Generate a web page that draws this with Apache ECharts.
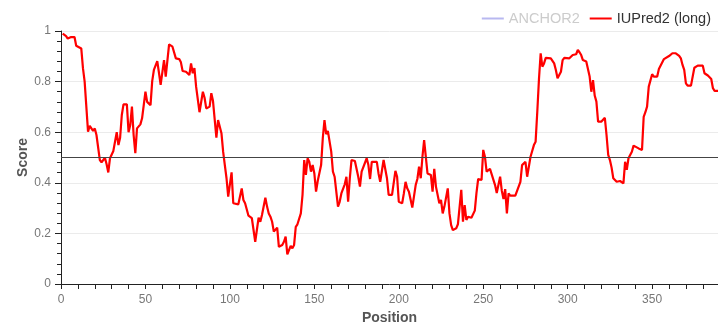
<!DOCTYPE html>
<html>
<head>
<meta charset="utf-8">
<title>IUPred2 disorder profile</title>
<script src="https://cdn.jsdelivr.net/npm/echarts@6/dist/echarts.min.js"></script>
<style>
  html, body { margin: 0; padding: 0; background: #fff; }
  #chart { width: 718px; height: 326px; }
</style>
</head>
<body>
<div id="chart"></div>
<script>
// Residue positions and IUPred2 (long) disorder scores
const positions = [
  1, 3, 4, 5, 6, 8, 9, 10, 12, 13, 14, 16, 17, 18, 19, 20, 21, 23, 24, 25,
  26, 27, 28, 29, 31, 32, 33, 34, 35, 36, 37, 39, 40, 41, 42, 43, 44, 45, 47, 48,
  49, 50, 51, 53, 54, 55, 57, 58, 59, 61, 62, 64, 66, 68, 70, 71, 72, 74, 76, 77,
  78, 79, 80, 81, 82, 84, 85, 86, 88, 89, 90, 92, 93, 95, 96, 97, 98, 99, 101, 102,
  103, 105, 107, 108, 109, 111, 112, 113, 115, 116, 117, 118, 119, 121, 122, 123, 124, 125, 126, 127,
  128, 129, 131, 132, 133, 134, 136, 137, 138, 139, 140, 142, 143, 144, 145, 146, 147, 148, 149, 150,
  151, 152, 153, 154, 155, 156, 157, 158, 159, 160, 161, 162, 163, 164, 165, 166, 167, 168, 169, 170,
  171, 172, 174, 175, 176, 177, 178, 179, 181, 182, 183, 184, 185, 187, 188, 189, 190, 191, 192, 193,
  194, 195, 196, 198, 199, 200, 201, 202, 203, 204, 205, 206, 207, 208, 209, 210, 211, 212, 213, 214,
  215, 216, 217, 218, 219, 220, 221, 222, 223, 224, 225, 226, 227, 228, 229, 230, 231, 232, 233, 234,
  235, 236, 237, 238, 239, 240, 241, 243, 244, 245, 246, 247, 248, 249, 250, 251, 252, 253, 254, 255,
  257, 258, 259, 260, 261, 262, 263, 264, 265, 266, 267, 269, 270, 272, 273, 274, 275, 276, 277, 278,
  279, 280, 281, 282, 283, 284, 285, 286, 287, 288, 290, 292, 293, 294, 296, 297, 298, 299, 301, 302,
  303, 305, 306, 307, 308, 309, 310, 311, 312, 313, 314, 315, 316, 317, 318, 320, 321, 322, 323, 324,
  325, 326, 327, 328, 329, 330, 331, 332, 333, 334, 335, 336, 337, 338, 339, 340, 342, 344, 345, 346,
  347, 348, 349, 350, 351, 353, 354, 355, 357, 358, 360, 361, 362, 364, 366, 367, 368, 369, 370, 371,
  373, 374, 375, 377, 378, 380, 381, 383, 385, 386, 387, 389
];
const scores = [
  0.99, 0.98, 0.97, 0.968, 0.976, 0.976, 0.942, 0.944, 0.931, 0.853, 0.80, 0.602, 0.625, 0.622, 0.605, 0.615, 0.589, 0.49, 0.481, 0.481,
  0.499, 0.473, 0.441, 0.497, 0.526, 0.526, 0.60, 0.549, 0.578, 0.668, 0.71, 0.71, 0.60, 0.628, 0.701, 0.589, 0.517, 0.615, 0.631, 0.655,
  0.657, 0.76, 0.72, 0.707, 0.802, 0.846, 0.881, 0.835, 0.787, 0.885, 0.82, 0.947, 0.938, 0.892, 0.889, 0.876, 0.842, 0.839, 0.826, 0.872,
  0.833, 0.853, 0.78, 0.773, 0.679, 0.76, 0.736, 0.694, 0.701, 0.754, 0.723, 0.578, 0.648, 0.596, 0.523, 0.47, 0.418, 0.345, 0.441, 0.319,
  0.315, 0.315, 0.378, 0.332, 0.319, 0.27, 0.264, 0.26, 0.167, 0.165, 0.262, 0.246, 0.273, 0.341, 0.306, 0.279, 0.266, 0.246, 0.207, 0.20,
  0.223, 0.147, 0.154, 0.167, 0.187, 0.117, 0.151, 0.141, 0.154, 0.226, 0.236, 0.279, 0.352, 0.49, 0.431, 0.497, 0.483, 0.444, 0.47, 0.437,
  0.365, 0.407, 0.411, 0.47, 0.576, 0.648, 0.592, 0.605, 0.605, 0.523, 0.444, 0.424, 0.424, 0.306, 0.325, 0.358, 0.365, 0.394, 0.424, 0.325,
  0.418, 0.49, 0.486, 0.483, 0.424, 0.385, 0.444, 0.451, 0.497, 0.47, 0.415, 0.483, 0.483, 0.483, 0.437, 0.404, 0.411, 0.49, 0.497, 0.418,
  0.352, 0.345, 0.352, 0.447, 0.424, 0.325, 0.319, 0.319, 0.358, 0.404, 0.378, 0.365, 0.372, 0.302, 0.306, 0.391, 0.415, 0.464, 0.418, 0.503,
  0.569, 0.569, 0.437, 0.437, 0.431, 0.365, 0.455, 0.385, 0.385, 0.319, 0.332, 0.279, 0.306, 0.312, 0.378, 0.279, 0.233, 0.213, 0.207, 0.22,
  0.236, 0.233, 0.372, 0.246, 0.312, 0.253, 0.266, 0.262, 0.266, 0.29, 0.36, 0.415, 0.411, 0.411, 0.53, 0.503, 0.444, 0.437, 0.455, 0.451,
  0.391, 0.36, 0.365, 0.424, 0.368, 0.336, 0.375, 0.279, 0.358, 0.349, 0.352, 0.349, 0.345, 0.404, 0.47, 0.477, 0.483, 0.424, 0.418, 0.503,
  0.507, 0.549, 0.562, 0.681, 0.81, 0.912, 0.859, 0.872, 0.894, 0.894, 0.892, 0.872, 0.846, 0.813, 0.839, 0.885, 0.894, 0.898, 0.892, 0.892,
  0.905, 0.908, 0.925, 0.916, 0.905, 0.885, 0.879, 0.879, 0.881, 0.82, 0.76, 0.806, 0.745, 0.721, 0.642, 0.642, 0.648, 0.657, 0.589, 0.51,
  0.49, 0.46, 0.418, 0.411, 0.404, 0.411, 0.407, 0.411, 0.398, 0.483, 0.451, 0.497, 0.49, 0.523, 0.547, 0.543, 0.536, 0.53, 0.661, 0.679,
  0.701, 0.78, 0.776, 0.829, 0.82, 0.82, 0.85, 0.855, 0.889, 0.889, 0.901, 0.905, 0.912, 0.912, 0.902, 0.892, 0.866, 0.846, 0.793, 0.784,
  0.784, 0.78, 0.855, 0.863, 0.866, 0.863, 0.833, 0.824, 0.81, 0.774, 0.763, 0.763
];
// ANCHOR2 binding scores are switched off in this view
const anchorScores = [];

const seqLength = 389;
const disorderThreshold = 0.5;
const xTickValues = [0, 10, 20, 30, 40, 50, 60, 70, 80, 90, 100, 110, 120, 130, 140, 150, 160, 170, 180, 190,
  200, 210, 220, 230, 240, 250, 260, 270, 280, 290, 300, 310, 320, 330, 340, 350, 360, 370, 380];
const xLabelValues = [0, 50, 100, 150, 200, 250, 300, 350];

const iupredData = positions.map((p, i) => [p, scores[i]]);

const chart = echarts.init(document.getElementById('chart'), null, { renderer: 'canvas' });
const fontFamily = '"Liberation Sans", Arial, Helvetica, sans-serif';

chart.setOption({
  animation: false,
  textStyle: { fontFamily: fontFamily },
  grid: { left: 61, right: 0, top: 31, bottom: 42, outerBoundsMode: 'none', containLabel: false },
  legend: {
    top: 6,
    right: 2,
    itemWidth: 22,
    itemHeight: 2,
    itemGap: 10,
    icon: 'rect',
    textStyle: { fontSize: 14.5, color: '#333', fontFamily: fontFamily },
    data: [
      { name: 'ANCHOR2', textStyle: { color: '#cccccc' } },
      { name: 'IUPred2 (long)' }
    ]
  },
  xAxis: {
    type: 'value',
    min: 0,
    max: seqLength,
    name: 'Position',
    nameLocation: 'middle',
    nameGap: 27,
    nameMoveOverlap: false,
    nameTextStyle: { fontSize: 14, fontWeight: 'bold', color: '#555' },
    axisLine: { onZero: false, lineStyle: { color: '#222', width: 1 } },
    axisTick: { show: true, length: 5, customValues: xTickValues, lineStyle: { color: '#222' } },
    axisLabel: { customValues: xLabelValues, color: '#777', fontSize: 12, margin: 10 },
    splitLine: { show: false }
  },
  yAxis: {
    type: 'value',
    min: 0,
    max: 1,
    interval: 0.2,
    name: 'Score',
    nameLocation: 'middle',
    nameGap: 31,
    nameMoveOverlap: false,
    nameTextStyle: { fontSize: 14, fontWeight: 'bold', color: '#555' },
    axisLine: { show: true, lineStyle: { color: '#222', width: 1 } },
    axisTick: { show: true, length: 6, lineStyle: { color: '#222' } },
    minorTick: { show: true, splitNumber: 5, length: 4, lineStyle: { color: '#222' } },
    axisLabel: { color: '#777', fontSize: 12, margin: 10 },
    splitLine: { show: true, lineStyle: { color: '#ebebeb', width: 1 } }
  },
  series: [
    {
      name: 'ANCHOR2',
      type: 'line',
      data: anchorScores,
      showSymbol: false,
      color: '#b8b8f0',
      lineStyle: { width: 2, color: '#b8b8f0' }
    },
    {
      name: 'IUPred2 (long)',
      type: 'line',
      data: iupredData,
      showSymbol: false,
      color: '#ff0000',
      lineStyle: { width: 2.2, color: '#ff0000' },
      markLine: {
        silent: true,
        symbol: ['none', 'none'],
        label: { show: false },
        lineStyle: { color: '#444', width: 1, type: 'solid' },
        data: [{ yAxis: disorderThreshold }]
      }
    }
  ]
});
</script>
</body>
</html>
